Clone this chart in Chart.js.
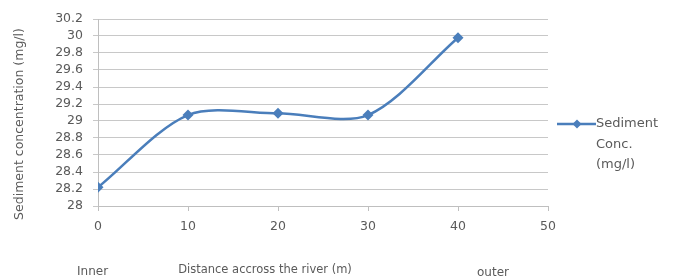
<!DOCTYPE html>
<html>
<head>
<meta charset="utf-8">
<script src="https://cdn.jsdelivr.net/npm/chart.js@4/dist/chart.umd.min.js"></script>
<style>
html,body{margin:0;padding:0;background:#fff;}
#wrap{width:681px;height:279px;position:relative;}
</style>
</head>
<body>
<div id="wrap"><canvas id="c" width="681" height="279"></canvas></div>
<script>
const distances = [0, 10, 20, 30, 40];
const sedimentConc = [28.22, 29.07, 29.09, 29.07, 29.98];
const seriesName = ["Sediment", "Conc.", "(mg/l)"];
const xTitle = "Distance accross the river (m)";
const yTitle = "Sediment concentration (mg/l)";
const sideLabels = ["Inner", "outer"];

const textColor = '#5a5a5a';
const lineColor = '#4a7ebb';
const fontFamily = '"DejaVu Sans", sans-serif';

const extras = {
  id: 'extras',
  afterDraw(chart) {
    const ctx = chart.ctx;
    ctx.save();
    // legend
    const ly = 124;
    ctx.strokeStyle = lineColor;
    ctx.lineWidth = 2.5;
    ctx.beginPath(); ctx.moveTo(557, ly); ctx.lineTo(596, ly); ctx.stroke();
    ctx.fillStyle = lineColor;
    ctx.beginPath();
    ctx.moveTo(577, ly - 4.5); ctx.lineTo(581.5, ly); ctx.lineTo(577, ly + 4.5); ctx.lineTo(572.5, ly); ctx.closePath();
    ctx.fill();
    ctx.fillStyle = textColor;
    ctx.font = '13px ' + fontFamily;
    ctx.textBaseline = 'middle';
    ctx.textAlign = 'left';
    ctx.fillText(seriesName[0], 596, ly);
    ctx.fillText(seriesName[1], 596, ly + 21);
    ctx.fillText(seriesName[2], 596, ly + 41);
    // side labels and x title
    ctx.font = '12px ' + fontFamily;
    ctx.fillText(sideLabels[0], 77, 272);
    ctx.fillText(sideLabels[1], 477, 273);
    ctx.font = '11.5px ' + fontFamily;
    ctx.textAlign = 'center';
    ctx.fillText(xTitle, 265, 270);
    // y title
    ctx.translate(20, 124);
    ctx.rotate(-Math.PI / 2);
    ctx.font = '12.5px ' + fontFamily;
    ctx.fillText(yTitle, 0, 0);
    ctx.restore();
  }
};

new Chart(document.getElementById('c'), {
  type: 'line',
  data: {
    datasets: [{
      label: seriesName.join(' '),
      data: distances.map((d, i) => ({x: d, y: sedimentConc[i]})),
      borderColor: lineColor,
      backgroundColor: lineColor,
      borderWidth: 2.5,
      pointStyle: 'rectRot',
      pointRadius: 5.5,
      pointBorderWidth: 0,
      tension: 0.3,
      fill: false
    }]
  },
  options: {
    responsive: false,
    animation: false,
    events: [],
    layout: { padding: { left: 0, right: 133, top: 19, bottom: 0 } },
    plugins: { legend: { display: false }, tooltip: { enabled: false } },
    scales: {
      x: {
        type: 'linear', min: 0, max: 50,
        ticks: { stepSize: 10, autoSkip: false, color: textColor, font: { family: fontFamily, size: 12.5 }, padding: 8 },
        grid: { drawOnChartArea: false, drawTicks: true, tickLength: 5, color: '#bfbfbf' },
        border: { color: '#bfbfbf' },
        afterFit(s) { s.height = 73; }
      },
      y: {
        min: 28, max: 30.2,
        ticks: { stepSize: 0.2, autoSkip: false, color: textColor, font: { family: fontFamily, size: 12.5 }, padding: 10,
          callback: v => Number(v.toFixed(1)).toString() },
        grid: { color: '#c8c8c8', tickLength: 5 },
        border: { color: '#bfbfbf' },
        afterFit(s) { s.width = 98; }
      }
    }
  },
  plugins: [extras]
});
</script>
</body>
</html>
